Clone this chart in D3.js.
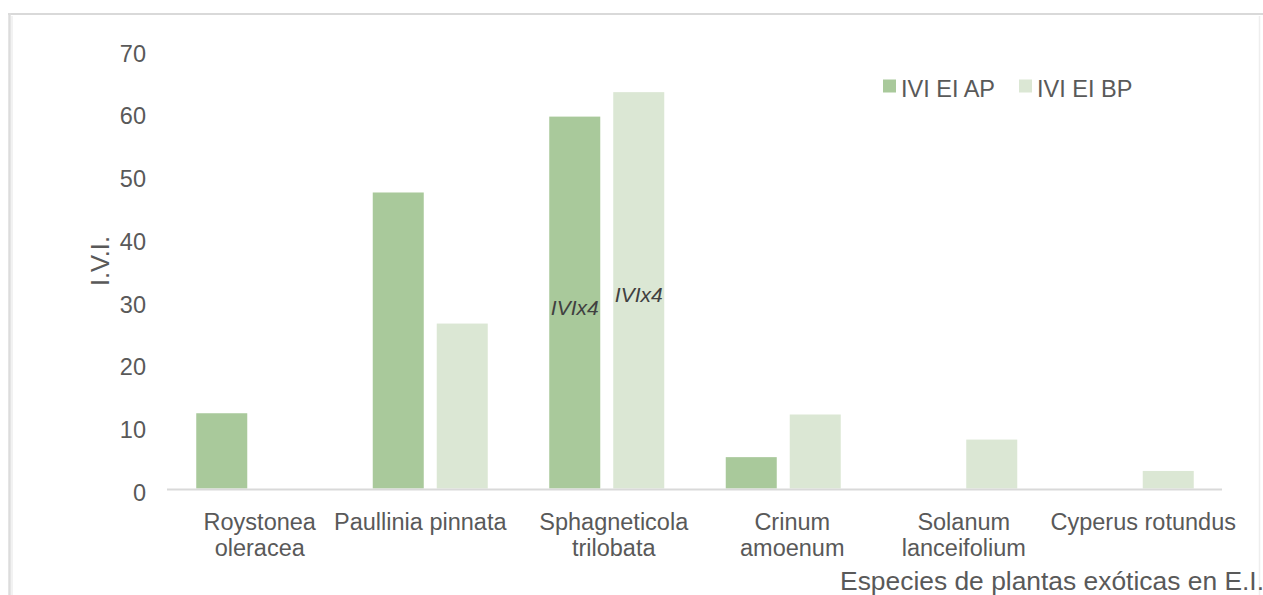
<!DOCTYPE html>
<html>
<head>
<meta charset="utf-8">
<script src="https://cdn.jsdelivr.net/npm/d3@7"></script>
<style>
  html, body { margin: 0; padding: 0; background: #ffffff; }
  svg { display: block; }
  text { font-family: "Liberation Sans", Arial, sans-serif; }
</style>
</head>
<body>
<svg id="chart" width="1263" height="595"></svg>
<script>
// Exotic plant species and their importance values (IVI) in two plots
const categories = [
  "Roystonea oleracea",
  "Paullinia pinnata",
  "Sphagneticola trilobata",
  "Crinum amoenum",
  "Solanum lanceifolium",
  "Cyperus rotundus"
];
// wrapped axis labels
const categoryLines = [
  ["Roystonea", "oleracea"],
  ["Paullinia pinnata"],
  ["Sphagneticola", "trilobata"],
  ["Crinum", "amoenum"],
  ["Solanum", "lanceifolium"],
  ["Cyperus rotundus"]
];
const seriesNames = ["IVI EI AP", "IVI EI BP"];
const ivyAP = [12.0, 47.2, 59.3, 5.0, 0, 0];
const ivyBP = [0, 26.3, 63.2, 11.8, 7.8, 2.8];
// custom labels shown inside bars (null = none)
const labelsAP = [null, null, "IVIx4", null, null, null];
const labelsBP = [null, null, "IVIx4", null, null, null];
const yTicks = [0, 10, 20, 30, 40, 50, 60, 70];
const yTitle = "I.V.I.";
const xTitle = "Especies de plantas exóticas en E.I.";

// layout
const colors = ["#a9c99b", "#dbe7d4"];
const labelShift = [6, -10, 7, 9, 4, 7];
const textColor = "#595959";

const svg = d3.select("#chart");

// outer frame
svg.append("line").attr("x1", 8).attr("x2", 1263).attr("y1", 14).attr("y2", 14)
  .attr("stroke", "#d9d9d9").attr("stroke-width", 2.2);
svg.append("line").attr("x1", 9.5).attr("x2", 9.5).attr("y1", 13).attr("y2", 595)
  .attr("stroke", "#dcdcdc").attr("stroke-width", 2.5);
svg.append("line").attr("x1", 12).attr("x2", 12).attr("y1", 16).attr("y2", 595)
  .attr("stroke", "#f2f2f2").attr("stroke-width", 2);
svg.append("line").attr("x1", 1259.5).attr("x2", 1259.5).attr("y1", 16).attr("y2", 595)
  .attr("stroke", "#eeeeee").attr("stroke-width", 1.5);

const x = d3.scaleBand().domain(categories).range([165.5, 1224.5]).padding(0);
const xs = d3.scaleBand().domain(seriesNames).range([30.75, 145.75]).paddingInner(0.203).paddingOuter(0);
const y = d3.scaleLinear().domain([0, 70]).range([488.5, 49.5]);

const rows = categories.map((c, i) => ({
  cat: c,
  vals: [
    { s: seriesNames[0], v: ivyAP[i], lab: labelsAP[i] },
    { s: seriesNames[1], v: ivyBP[i], lab: labelsBP[i] }
  ]
}));

// bars
const groups = svg.append("g").selectAll("g").data(rows).join("g")
  .attr("transform", d => `translate(${x(d.cat)},0)`);

groups.selectAll("rect").data(d => d.vals).join("rect")
  .attr("x", d => xs(d.s))
  .attr("width", xs.bandwidth())
  .attr("y", d => y(d.v))
  .attr("height", d => y(0) - y(d.v))
  .attr("fill", (d, i) => colors[i]);

// in-bar labels
groups.selectAll("text.barlab").data(d => d.vals.filter(v => v.lab)).join("text")
  .attr("class", "barlab")
  .attr("x", d => xs(d.s) + xs.bandwidth() / 2)
  .attr("y", d => (y(d.v) + y(0)) / 2 + 12)
  .attr("text-anchor", "middle")
  .attr("font-size", 21)
  .attr("font-style", "italic")
  .attr("fill", "#404040")
  .text(d => d.lab);

// baseline
svg.append("line").attr("x1", 167).attr("x2", 1222)
  .attr("y1", y(0) + 1).attr("y2", y(0) + 1)
  .attr("stroke", "#d9d9d9").attr("stroke-width", 2.2);

// y axis (labels only)
const yAxis = d3.axisLeft(y).tickValues(yTicks).tickSize(0).tickPadding(0);
const gy = svg.append("g").attr("transform", "translate(146,0)").call(yAxis);
gy.select(".domain").remove();
gy.selectAll("text")
  .attr("font-family", "'Liberation Sans', Arial, sans-serif")
  .attr("font-size", 23.5)
  .attr("fill", textColor)
  .attr("dy", "0.5em");

// category labels
const gx = svg.append("g");
categories.forEach((c, i) => {
  const cx = x(c) + x.bandwidth() / 2 + labelShift[i];
  const t = gx.append("text")
    .attr("text-anchor", "middle")
    .attr("font-size", 23.5)
    .attr("fill", textColor);
  categoryLines[i].forEach((line, j) => {
    t.append("tspan").attr("x", cx).attr("y", 530 + j * 26).text(line);
  });
});

// axis titles
svg.append("text")
  .attr("transform", "translate(109,261) rotate(-90)")
  .attr("text-anchor", "middle")
  .attr("font-size", 25.5)
  .attr("fill", textColor)
  .text(yTitle);

svg.append("text")
  .attr("x", 1264).attr("y", 590)
  .attr("text-anchor", "end")
  .attr("font-size", 26.4)
  .attr("fill", textColor)
  .text(xTitle);

// legend
const legend = svg.append("g");
const legendX = [883, 1019];
seriesNames.forEach((s, i) => {
  legend.append("rect")
    .attr("x", legendX[i]).attr("y", 79.5)
    .attr("width", 13).attr("height", 13)
    .attr("fill", colors[i]);
  legend.append("text")
    .attr("x", legendX[i] + 18).attr("y", 96.5)
    .attr("font-size", 23.5)
    .attr("fill", textColor)
    .text(s);
});
</script>
</body>
</html>
